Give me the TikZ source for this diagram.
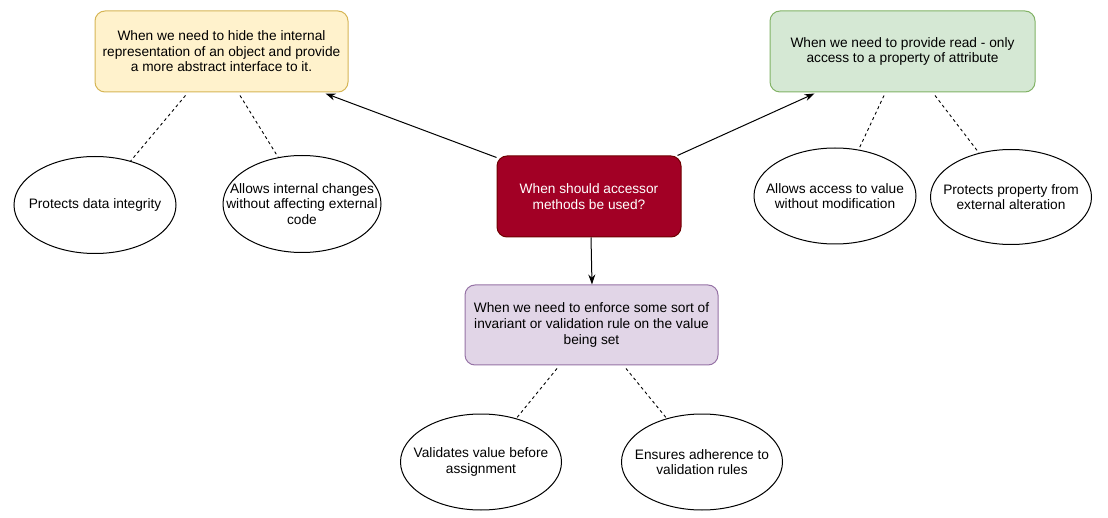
\documentclass[tikz,border=0pt]{standalone}
\usepackage{fontspec}
\setmainfont{Liberation Sans}
\usetikzlibrary{shapes.geometric,arrows.meta,calc}
\definecolor{yfill}{HTML}{FFF2CC}\definecolor{ydraw}{HTML}{D6B656}
\definecolor{gfill}{HTML}{D5E8D4}\definecolor{gdraw}{HTML}{82B366}
\definecolor{rfill}{HTML}{A20025}\definecolor{rdraw}{HTML}{6F0000}
\definecolor{pfill}{HTML}{E1D5E7}\definecolor{pdraw}{HTML}{9673A6}
\tikzset{
  box/.style={draw, rounded corners=10pt, line width=1pt, align=center, inner sep=0pt,
    font=\fontsize{13.7}{15.6}\selectfont},
  oval/.style={draw, ellipse, line width=1pt, inner sep=0pt,
    minimum width=162pt, minimum height=97pt},
  otext/.style={align=center, inner sep=0pt, font=\fontsize{13.7}{15.6}\selectfont},
  arr/.style={-{Stealth[length=10pt,width=7pt]}, line width=1pt},
  dsh/.style={line width=0.9pt, dash pattern=on 3pt off 3pt}
}
\begin{document}
\begin{tikzpicture}[x=1pt,y=-1pt]
\useasboundingbox[fill=white] (0,0) rectangle (1108,518);
\node[box, fill=yfill, draw=ydraw, minimum width=253pt, minimum height=81pt] (b1) at (221.5,51.5)
  {When we need to hide the internal\\representation of an object and provide\\a more abstract interface to it.};
\node[box, fill=gfill, draw=gdraw, minimum width=265pt, minimum height=81pt] (b2) at (902.5,51.5)
  {When we need to provide read - only\\access to a property of attribute};
\node[box, fill=rfill, draw=rdraw, text=white, minimum width=184pt, minimum height=81pt] (c) at (589,196.5)
  {When should accessor\\methods be used?};
\node[box, fill=pfill, draw=pdraw, minimum width=253pt, minimum height=80pt] (b4) at (591.5,325)
  {When we need to enforce some sort of\\invariant or validation rule on the value\\being set};
\node[oval] (e1) at (95,205) {};
\node[otext] (t1) at (e1) {Protects data integrity};
\node[oval, minimum width=158pt] (e2) at (302,204) {};
\node[otext] (t2) at (e2) {Allows internal changes\\without affecting external\\code};
\node[oval, minimum height=96pt] (e3) at (835,196) {};
\node[otext] (t3) at (e3) {Allows access to value\\without modification};
\node[oval, minimum width=161pt, minimum height=95pt] (e4) at (1011,197) {};
\node[otext] (t4) at (e4) {Protects property from\\external alteration};
\node[oval, minimum width=161pt, minimum height=96pt] (e5) at (481,462) {};
\node[otext] (t5) at (e5) {Validates value before\\assignment};
\node[oval, minimum width=161pt, minimum height=96pt] (e6) at (702,462) {};
\node[otext] (t6) at (e6) {Ensures adherence to\\validation rules};
\draw[arr] ([yshift=-2pt]c.north west) -- ([xshift=-23pt,yshift=-1pt]b1.south east);
\draw[arr] ([xshift=-4pt]c.north east) -- ([xshift=45pt,yshift=-1pt]b2.south west);
\draw[arr] ([xshift=2pt]c.south) -- ([xshift=0.5pt]b4.north);
\draw[dsh] ([xshift=-36pt,yshift=-3pt]b1.south) -- (e1.51);
\draw[dsh] ([xshift=18.5pt,yshift=-3pt]b1.south) -- (e2.117);
\draw[dsh] ([xshift=-18.5pt,yshift=-3pt]b2.south) -- (e3.63);
\draw[dsh] ([xshift=32.5pt,yshift=-3pt]b2.south) -- (e4.126);
\draw[dsh] ([xshift=-34.5pt,yshift=-3pt]b4.south) -- (e5.51);
\draw[dsh] ([xshift=34.5pt,yshift=-3pt]b4.south) -- (e6.129);
\end{tikzpicture}
\end{document}
